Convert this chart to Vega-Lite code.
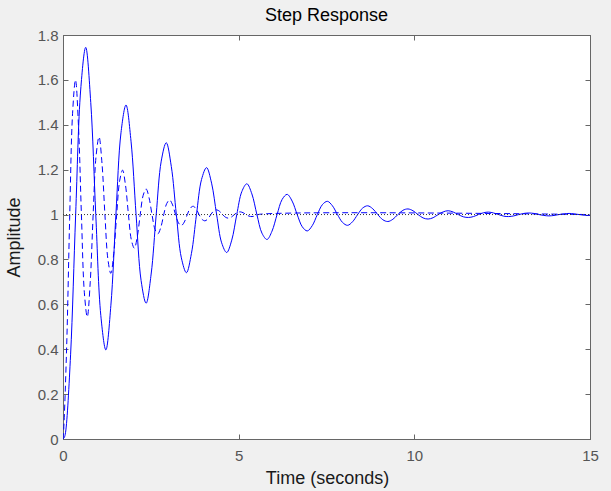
{
  "$schema": "https://vega.github.io/schema/vega-lite/v6.json",
  "width": 527,
  "height": 404,
  "autosize": {"type": "none"},
  "padding": {"left": 63, "top": 35, "right": 21, "bottom": 52},
  "background": "#f0f0f0",
  "config": {
    "view": {"fill": "white", "stroke": "#666666", "strokeWidth": 1},
    "font": "Liberation Sans",
    "axis": {
      "grid": false,
      "labelFlush": false,
      "domainColor": "#666666",
      "tickColor": "#666666",
      "tickSize": -5,
      "labelFont": "Liberation Sans",
      "labelFontSize": 15,
      "labelColor": "#555555",
      "titleFont": "Liberation Sans",
      "titleFontSize": 18,
      "titleFontWeight": "normal",
      "titleColor": "#1a1a1a"
    }
  },
  "title": {
    "text": "Step Response",
    "font": "Liberation Sans",
    "fontSize": 18,
    "fontWeight": "normal",
    "color": "#000000",
    "anchor": "middle",
    "baseline": "alphabetic",
    "offset": -11
  },
  "datasets": {
    "solid": [
      {"t": 0, "y": 0}, {"t": 0.035, "y": 0.006}, {"t": 0.073, "y": 0.030}, {"t": 0.216, "y": 0.375}, {"t": 0.360, "y": 0.999},
      {"t": 0.503, "y": 1.555}, {"t": 0.646, "y": 1.745}, {"t": 0.790, "y": 1.499}, {"t": 0.933, "y": 1.0}, {"t": 1.076, "y": 0.551},
      {"t": 1.220, "y": 0.397}, {"t": 1.363, "y": 0.596}, {"t": 1.506, "y": 1.0}, {"t": 1.650, "y": 1.364}, {"t": 1.793, "y": 1.488},
      {"t": 1.936, "y": 1.327}, {"t": 2.080, "y": 1.0}, {"t": 2.223, "y": 0.706}, {"t": 2.366, "y": 0.605}, {"t": 2.509, "y": 0.735},
      {"t": 2.653, "y": 1.0}, {"t": 2.796, "y": 1.238}, {"t": 2.939, "y": 1.320}, {"t": 3.083, "y": 1.214}, {"t": 3.226, "y": 1.0},
      {"t": 3.369, "y": 0.807}, {"t": 3.513, "y": 0.741}, {"t": 3.656, "y": 0.827}, {"t": 3.799, "y": 1.0}, {"t": 3.943, "y": 1.156},
      {"t": 4.086, "y": 1.209}, {"t": 4.229, "y": 1.140}, {"t": 4.373, "y": 1.0}, {"t": 4.516, "y": 0.874}, {"t": 4.659, "y": 0.831},
      {"t": 4.803, "y": 0.886}, {"t": 4.946, "y": 1.0}, {"t": 5.089, "y": 1.102}, {"t": 5.233, "y": 1.137}, {"t": 5.376, "y": 1.092},
      {"t": 5.519, "y": 1.0}, {"t": 5.663, "y": 0.917}, {"t": 5.806, "y": 0.889}, {"t": 5.949, "y": 0.926}, {"t": 6.093, "y": 1.0},
      {"t": 6.236, "y": 1.067}, {"t": 6.379, "y": 1.090}, {"t": 6.522, "y": 1.060}, {"t": 6.666, "y": 1.0}, {"t": 6.809, "y": 0.946},
      {"t": 6.952, "y": 0.927}, {"t": 7.096, "y": 0.951}, {"t": 7.239, "y": 1.0}, {"t": 7.382, "y": 1.044}, {"t": 7.526, "y": 1.059},
      {"t": 7.669, "y": 1.039}, {"t": 7.812, "y": 1.0}, {"t": 7.956, "y": 0.965}, {"t": 8.099, "y": 0.952}, {"t": 8.242, "y": 0.968},
      {"t": 8.386, "y": 1.0}, {"t": 8.529, "y": 1.029}, {"t": 8.672, "y": 1.039}, {"t": 8.816, "y": 1.026}, {"t": 8.959, "y": 1.0},
      {"t": 9.102, "y": 0.977}, {"t": 9.246, "y": 0.969}, {"t": 9.389, "y": 0.979}, {"t": 9.532, "y": 1.0}, {"t": 9.676, "y": 1.019},
      {"t": 9.819, "y": 1.025}, {"t": 9.962, "y": 1.017}, {"t": 10.105, "y": 1.0}, {"t": 10.249, "y": 0.985}, {"t": 10.392, "y": 0.980},
      {"t": 10.535, "y": 0.986}, {"t": 10.679, "y": 1.0}, {"t": 10.822, "y": 1.012}, {"t": 10.965, "y": 1.017}, {"t": 11.109, "y": 1.011},
      {"t": 11.252, "y": 1.0}, {"t": 11.395, "y": 0.990}, {"t": 11.539, "y": 0.987}, {"t": 11.682, "y": 0.991}, {"t": 11.825, "y": 1.0},
      {"t": 11.969, "y": 1.008}, {"t": 12.112, "y": 1.011}, {"t": 12.255, "y": 1.007}, {"t": 12.399, "y": 1.0}, {"t": 12.542, "y": 0.993},
      {"t": 12.685, "y": 0.991}, {"t": 12.828, "y": 0.994}, {"t": 12.972, "y": 1.0}, {"t": 13.115, "y": 1.005}, {"t": 13.258, "y": 1.007},
      {"t": 13.402, "y": 1.005}, {"t": 13.545, "y": 1.0}, {"t": 13.688, "y": 0.996}, {"t": 13.832, "y": 0.994}, {"t": 13.975, "y": 0.996},
      {"t": 14.118, "y": 1.0}, {"t": 14.262, "y": 1.003}, {"t": 14.405, "y": 1.005}, {"t": 14.548, "y": 1.003}, {"t": 14.692, "y": 1.0},
      {"t": 14.835, "y": 0.997}, {"t": 14.978, "y": 0.996}, {"t": 15, "y": 0.996}
    ],
    "dashed": [
      {"t": 0, "y": 0}, {"t": 0.021, "y": 0.044}, {"t": 0.105, "y": 0.417}, {"t": 0.189, "y": 0.979}, {"t": 0.272, "y": 1.449},
      {"t": 0.356, "y": 1.600}, {"t": 0.440, "y": 1.397}, {"t": 0.524, "y": 1.0}, {"t": 0.607, "y": 0.654}, {"t": 0.691, "y": 0.544},
      {"t": 0.775, "y": 0.699}, {"t": 0.858, "y": 1.0}, {"t": 0.942, "y": 1.262}, {"t": 1.026, "y": 1.346}, {"t": 1.110, "y": 1.228},
      {"t": 1.193, "y": 1.0}, {"t": 1.277, "y": 0.802}, {"t": 1.361, "y": 0.738}, {"t": 1.445, "y": 0.827}, {"t": 1.528, "y": 1.0},
      {"t": 1.612, "y": 1.150}, {"t": 1.696, "y": 1.198}, {"t": 1.779, "y": 1.131}, {"t": 1.863, "y": 1.0}, {"t": 1.947, "y": 0.886},
      {"t": 2.031, "y": 0.850}, {"t": 2.114, "y": 0.901}, {"t": 2.198, "y": 1.0}, {"t": 2.282, "y": 1.086}, {"t": 2.366, "y": 1.114},
      {"t": 2.449, "y": 1.075}, {"t": 2.533, "y": 1.0}, {"t": 2.617, "y": 0.935}, {"t": 2.700, "y": 0.914}, {"t": 2.784, "y": 0.943},
      {"t": 2.868, "y": 1.0}, {"t": 2.952, "y": 1.049}, {"t": 3.035, "y": 1.065}, {"t": 3.119, "y": 1.043}, {"t": 3.203, "y": 1.0},
      {"t": 3.286, "y": 0.963}, {"t": 3.370, "y": 0.951}, {"t": 3.454, "y": 0.967}, {"t": 3.538, "y": 1.0}, {"t": 3.621, "y": 1.028},
      {"t": 3.705, "y": 1.037}, {"t": 3.789, "y": 1.025}, {"t": 3.873, "y": 1.0}, {"t": 3.956, "y": 0.979}, {"t": 4.040, "y": 0.972},
      {"t": 4.124, "y": 0.981}, {"t": 4.207, "y": 1.0}, {"t": 4.291, "y": 1.016}, {"t": 4.375, "y": 1.021}, {"t": 4.459, "y": 1.014},
      {"t": 4.542, "y": 1.0}, {"t": 4.626, "y": 0.988}, {"t": 4.710, "y": 0.984}, {"t": 4.794, "y": 0.989}, {"t": 4.877, "y": 1.0},
      {"t": 4.961, "y": 1.009}, {"t": 5.045, "y": 1.012}, {"t": 5.128, "y": 1.008}, {"t": 5.212, "y": 1.0}, {"t": 5.296, "y": 0.993},
      {"t": 5.380, "y": 0.991}, {"t": 5.463, "y": 0.994}, {"t": 5.547, "y": 1.0}, {"t": 15, "y": 1.0}
    ],
    "steady": [
      {"t": 0, "y": 1.0}, {"t": 15, "y": 1.0}
    ]
  },
  "layer": [
    {
      "data": {"name": "solid"},
      "mark": {"type": "line", "color": "#0000ff", "strokeWidth": 1, "interpolate": "catmull-rom", "clip": true},
      "encoding": {
        "x": {"field": "t", "type": "quantitative", "scale": {"domain": [0, 15], "nice": false},
              "axis": {"title": "Time (seconds)", "values": [0, 5, 10, 15], "format": "d", "labelPadding": 14, "labelFlush": false,
                       "titleX": 264, "titleY": 44, "titleBaseline": "alphabetic"}},
        "y": {"field": "y", "type": "quantitative", "scale": {"domain": [0, 1.8], "nice": false},
              "axis": {"title": "Amplitude", "values": [0, 0.2, 0.4, 0.6, 0.8, 1, 1.2, 1.4, 1.6, 1.8], "format": ".1~f", "labelPadding": 10, "labelFlush": false,
                       "titleX": -44, "titleY": 202, "titleBaseline": "alphabetic"}}
      }
    },
    {
      "data": {"name": "dashed"},
      "mark": {"type": "line", "color": "#0000ff", "strokeWidth": 1, "strokeDash": [6, 3.5], "interpolate": "catmull-rom", "clip": true},
      "encoding": {
        "x": {"field": "t", "type": "quantitative", "axis": null},
        "y": {"field": "y", "type": "quantitative", "axis": null}
      }
    },
    {
      "data": {"name": "steady"},
      "mark": {"type": "line", "color": "#333333", "strokeWidth": 1, "strokeDash": [1, 2], "clip": true},
      "encoding": {
        "x": {"field": "t", "type": "quantitative",
              "axis": {"orient": "top", "title": null, "labels": false, "values": [0, 5, 10, 15]}},
        "y": {"field": "y", "type": "quantitative",
              "axis": {"orient": "right", "title": null, "labels": false, "values": [0, 0.2, 0.4, 0.6, 0.8, 1, 1.2, 1.4, 1.6, 1.8]}}
      }
    }
  ],
  "resolve": {"axis": {"x": "independent", "y": "independent"}}
}
